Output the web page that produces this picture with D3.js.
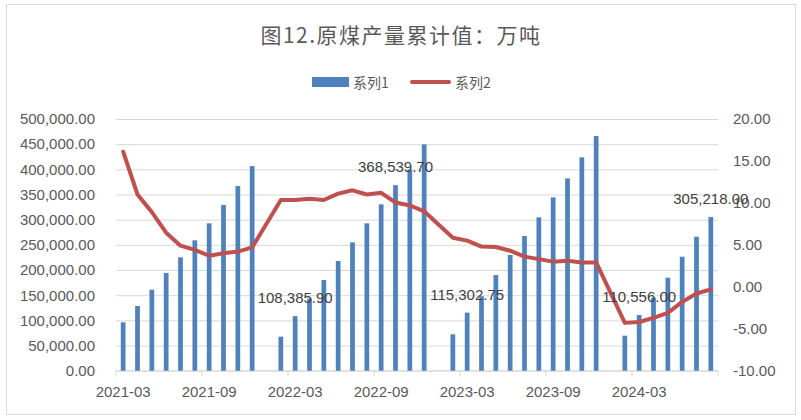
<!DOCTYPE html>
<html>
<head>
<meta charset="utf-8">
<script src="https://cdn.jsdelivr.net/npm/d3@7"></script>
<style>
  body { margin: 0; background: #fff; }
  text { font-family: "Liberation Sans", Arial, "Noto Sans CJK SC", sans-serif; }
</style>
</head>
<body>
<div id="d3-container"></div>
<script>
/* CONSTANTS AND GLOBALS */
const width = 801,
  height = 420,
  margin = { top: 119, bottom: 49.3, left: 116, right: 83 };

/* DATA */
const months = [
  "2021-03", "2021-04", "2021-05", "2021-06", "2021-07", "2021-08", "2021-09", "2021-10", "2021-11", "2021-12",
  "2022-01", "2022-02", "2022-03", "2022-04", "2022-05", "2022-06", "2022-07", "2022-08", "2022-09", "2022-10", "2022-11", "2022-12",
  "2023-01", "2023-02", "2023-03", "2023-04", "2023-05", "2023-06", "2023-07", "2023-08", "2023-09", "2023-10", "2023-11", "2023-12",
  "2024-01", "2024-02", "2024-03", "2024-04", "2024-05", "2024-06", "2024-07", "2024-08"
];

// 系列1: cumulative raw coal output (万吨)
const series1 = [
  96100, 128500, 160900, 194000, 225200, 259000, 292700, 329100, 366800, 406500,
  null, 67600, 108385.90, 143000, 180100, 217900, 255000, 292700, 330500, 368539.70, 399000, 449600,
  null, 72300, 115302.75, 148000, 190000, 229800, 267500, 304600, 344300, 382000, 423800, 466100,
  null, 69600, 110556.00, 145000, 184700, 226400, 266100, 305218.00
];

// 系列2: cumulative growth (%)
const series2 = [
  16.1, 11.0, 8.9, 6.45, 4.9, 4.4, 3.7, 4.0, 4.2, 4.7,
  null, 10.35, 10.35, 10.5, 10.35, 11.1, 11.5, 11.0, 11.2, 10.05, 9.7, 9.0,
  null, 5.85, 5.5, 4.8, 4.75, 4.3, 3.6, 3.3, 3.0, 3.1, 2.9, 2.9,
  null, -4.3, -4.2, -3.7, -3.1, -1.8, -0.8, -0.3
];

const leftTicks = [0, 50000, 100000, 150000, 200000, 250000, 300000, 350000, 400000, 450000, 500000];
const rightTicks = [-10, -5, 0, 5, 10, 15, 20];
const xLabelMonths = ["2021-03", "2021-09", "2022-03", "2022-09", "2023-03", "2023-09", "2024-03"];
const labelMonths = ["2022-03", "2022-10", "2023-03", "2024-03", "2024-08"];

const titleText = "图12.原煤产量累计值：万吨";
const legendNames = ["系列1", "系列2"];

const barColor = "#4F81BD",
  lineColor = "#C0504D",
  gridColor = "#D9D9D9",
  axisText = "#595959";

/* INIT */
const svg = d3.select("#d3-container")
  .append("svg")
  .attr("width", width)
  .attr("height", height);

// chart border
svg.append("rect")
  .attr("x", 6.5).attr("y", 4.5)
  .attr("width", 789).attr("height", 410)
  .attr("fill", "none")
  .attr("stroke", gridColor);

const x = d3.scaleBand()
  .domain(months)
  .range([margin.left, width - margin.right])
  .paddingInner(0.67)
  .paddingOuter(0.335);

const y = d3.scaleLinear()
  .domain([0, 500000])
  .range([height - margin.bottom, margin.top]);

const yR = d3.scaleLinear()
  .domain([-10, 20])
  .range([height - margin.bottom, margin.top]);

const plotW = width - margin.right - margin.left;

// left axis + grid
const gLeft = svg.append("g")
  .attr("transform", `translate(${margin.left},0)`)
  .call(d3.axisLeft(y).tickValues(leftTicks).tickSize(-plotW).tickPadding(21).tickFormat(d3.format(",.2f")));
gLeft.select(".domain").remove();
gLeft.selectAll(".tick line").attr("stroke", gridColor);
gLeft.selectAll(".tick text").attr("fill", axisText).style("font-size", "15px");

// right axis
const gRight = svg.append("g")
  .attr("transform", `translate(${width - margin.right},0)`)
  .call(d3.axisRight(yR).tickValues(rightTicks).tickSize(0).tickPadding(15).tickFormat(d => d.toFixed(2)));
gRight.select(".domain").remove();
gRight.selectAll(".tick text").attr("fill", axisText).style("font-size", "15px");

// bottom axis
const y0 = y(0);
svg.append("line")
  .attr("x1", margin.left).attr("x2", width - margin.right)
  .attr("y1", y0).attr("y2", y0)
  .attr("stroke", gridColor);

const step = x.step();
svg.selectAll("line.xtick")
  .data(d3.range(0, months.length + 1, 6))
  .join("line")
  .attr("class", "xtick")
  .attr("x1", i => margin.left + i * step)
  .attr("x2", i => margin.left + i * step)
  .attr("y1", y0).attr("y2", y0 + 6)
  .attr("stroke", gridColor);

const gBottom = svg.append("g")
  .attr("transform", `translate(0,${y0})`)
  .call(d3.axisBottom(x).tickValues(xLabelMonths).tickSize(0).tickPadding(16));
gBottom.select(".domain").remove();
gBottom.selectAll(".tick text").attr("fill", axisText).style("font-size", "15px");

// bars
const rows = months.map((m, i) => ({ month: m, v1: series1[i], v2: series2[i] }));

svg.selectAll("rect.bar")
  .data(rows.filter(d => d.v1 != null))
  .join("rect")
  .attr("class", "bar")
  .attr("x", d => x(d.month))
  .attr("width", x.bandwidth())
  .attr("y", d => y(d.v1))
  .attr("height", d => y0 - y(d.v1))
  .attr("fill", barColor);

// line (gaps are bridged)
const line = d3.line()
  .x(d => x(d.month) + x.bandwidth() / 2)
  .y(d => yR(d.v2));

svg.append("path")
  .datum(rows.filter(d => d.v2 != null))
  .attr("d", line)
  .attr("fill", "none")
  .attr("stroke", lineColor)
  .attr("stroke-width", 4)
  .attr("stroke-linejoin", "round")
  .attr("stroke-linecap", "round");

// data labels
svg.selectAll("text.dlabel")
  .data(rows.filter(d => labelMonths.includes(d.month)))
  .join("text")
  .attr("class", "dlabel")
  .attr("x", d => x(d.month) + x.bandwidth() / 2)
  .attr("y", d => y(d.v1) - 13)
  .attr("text-anchor", "middle")
  .attr("fill", "#404040")
  .style("font-size", "15px")
  .text(d => d3.format(",.2f")(d.v1));

// title
svg.append("text")
  .attr("x", 401)
  .attr("y", 43)
  .attr("text-anchor", "middle")
  .attr("fill", axisText)
  .style("font-size", "21px")
  .style("letter-spacing", "1.5px")
  .style("font-family", "'Noto Sans CJK SC', sans-serif")
  .text(titleText);

// legend
const legend = svg.append("g");
legend.append("rect")
  .attr("x", 312).attr("y", 77)
  .attr("width", 37).attr("height", 10)
  .attr("fill", barColor);
legend.append("text")
  .attr("x", 353).attr("y", 88)
  .attr("fill", axisText)
  .style("font-size", "14px")
  .style("font-family", "'Noto Sans CJK SC', sans-serif")
  .text(legendNames[0]);
legend.append("line")
  .attr("x1", 412).attr("x2", 449)
  .attr("y1", 82).attr("y2", 82)
  .attr("stroke", lineColor)
  .attr("stroke-width", 4)
  .attr("stroke-linecap", "round");
legend.append("text")
  .attr("x", 455).attr("y", 88)
  .attr("fill", axisText)
  .style("font-size", "14px")
  .style("font-family", "'Noto Sans CJK SC', sans-serif")
  .text(legendNames[1]);
</script>
</body>
</html>
